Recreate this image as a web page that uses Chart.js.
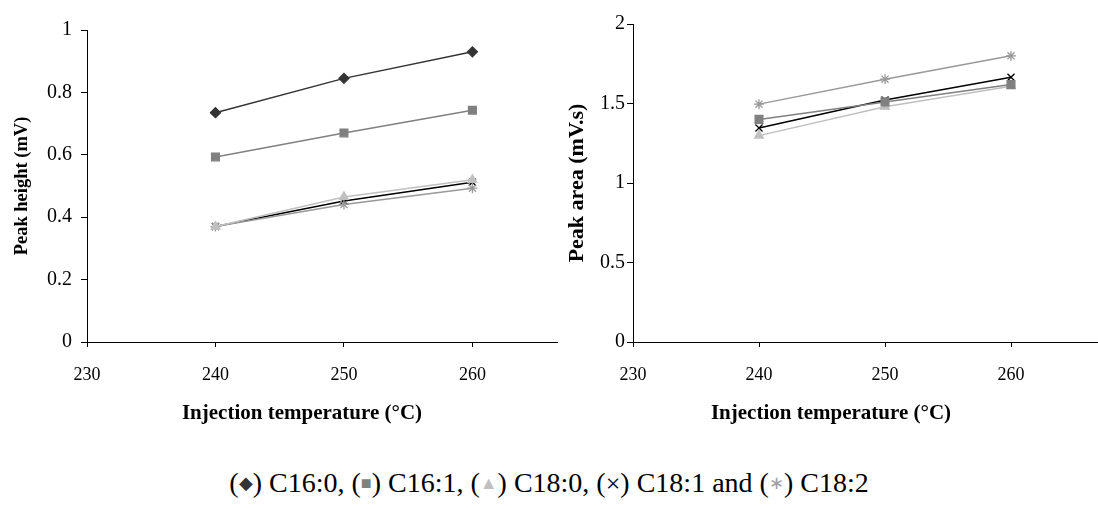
<!DOCTYPE html>
<html>
<head>
<meta charset="utf-8">
<script src="https://cdn.jsdelivr.net/npm/chart.js@4"></script>
<style>
  body { margin: 0; background: #fff; width: 1098px; height: 509px; position: relative; overflow: hidden; font-family: "Liberation Serif", serif; }
  .box { position: absolute; }
  .xtitle { position: absolute; top: 400px; font-weight: bold; font-size: 21px; white-space: nowrap; transform: translateX(-50%); }
  #leyenda { position: absolute; top: 467px; left: 549px; transform: translateX(-50%); font-size: 28px; white-space: nowrap; }
  #leyenda span { font-size: 18px; vertical-align: 3px; }
  #leyenda span.x { font-size: 26px; vertical-align: 0; }
</style>
</head>
<body>
<div class="box" style="left:0;top:0;width:564px;height:440px"><canvas id="chartAltura"></canvas></div>
<div class="box" style="left:549px;top:0;width:557px;height:440px"><canvas id="chartArea"></canvas></div>
<div class="xtitle" style="left:302px">Injection temperature (°C)</div>
<div class="xtitle" style="left:831px">Injection temperature (°C)</div>
<div id="leyenda">(<span style="color:#333">◆</span>) C16:0, (<span style="color:#808080">■</span>) C16:1, (<span style="color:#c0c0c0">▲</span>) C18:0, (<span class="x" style="color:#000">×</span>) C18:1 and (<span style="color:#a0a0a0">∗</span>) C18:2</div>
<script>
// temperaturas de inyeccion
const temperaturas = [240, 250, 260];
const ticksX = [230, 240, 250, 260];

// altura de pico (mV)
const alturaC160 = [0.735, 0.845, 0.930];
const alturaC161 = [0.593, 0.670, 0.743];
const alturaC180 = [0.370, 0.465, 0.520];
const alturaC181 = [0.370, 0.452, 0.512];
const alturaC182 = [0.370, 0.441, 0.493];

// area de pico (mV.s)
const areaC161 = [1.400, 1.510, 1.620];
const areaC180 = [1.298, 1.480, 1.608];
const areaC181 = [1.346, 1.522, 1.665];
const areaC182 = [1.496, 1.653, 1.800];

const fuente = "'Liberation Serif', 'Times New Roman', serif";

function puntos(valores) {
  var salida = [];
  for (let i = 0; i < temperaturas.length; i++) {
    salida.push({x: temperaturas[i], y: valores[i]});
  }
  return salida;
}

function serie(nombre, valores, color, estilo, radio) {
  return {
    label: nombre,
    data: puntos(valores),
    borderColor: color,
    backgroundColor: color,
    borderWidth: 1.5,
    pointStyle: estilo,
    pointRadius: radio,
    pointBorderColor: color,
    pointBackgroundColor: color,
    pointBorderWidth: 1.3,
    fill: false
  };
}

// c = {tituloY, maxY, pasoY, maxX, anchoY, arriba, tamTitulo, padTitulo, padTick}
function opciones(c) {
  return {
    responsive: true,
    maintainAspectRatio: false,
    animation: false,
    layout: {padding: {top: c.arriba, right: 0, bottom: 0, left: 0}},
    plugins: {legend: {display: false}, tooltip: {enabled: false}},
    scales: {
      x: {
        type: "linear",
        min: 230,
        max: c.maxX,
        afterBuildTicks: (s) => { s.ticks = ticksX.map(v => ({value: v})); },
        afterFit: (s) => { s.height = 98; },
        ticks: {color: "#000", font: {family: fuente, size: 18}, padding: 17, maxRotation: 0},
        grid: {display: true, drawOnChartArea: false, drawTicks: true, tickLength: 5, color: "#000"},
        border: {color: "#000", width: 1}
      },
      y: {
        min: 0,
        max: c.maxY,
        afterFit: (s) => { s.width = c.anchoY; },
        ticks: {stepSize: c.pasoY, color: "#000", font: {family: fuente, size: 20}, padding: c.padTick,
          callback: (v) => String(Math.round(v * 100) / 100)},
        grid: {display: true, drawOnChartArea: false, drawTicks: true, tickLength: 6, color: "#000"},
        border: {color: "#000", width: 1},
        title: {display: true, text: c.tituloY, color: "#000", font: {family: fuente, size: c.tamTitulo, weight: "bold"}, padding: {top: c.padTitulo, bottom: 0}}
      }
    }
  };
}

new Chart("chartAltura", {
  type: "line",
  data: {
    datasets: [
      serie("C16:0", alturaC160, "#333333", "rectRot", 5),
      serie("C16:1", alturaC161, "#808080", "rect", 5.5),
      serie("C18:0", alturaC180, "#c0c0c0", "triangle", 5),
      serie("C18:2", alturaC182, "#999999", "star", 5),
      serie("C18:1", alturaC181, "#000000", "crossRot", 5)
    ]
  },
  options: opciones({tituloY: "Peak height (mV)", maxY: 1, pasoY: 0.2, maxX: 266.6, anchoY: 87,
    arriba: 30, tamTitulo: 18.5, padTitulo: 11, padTick: 9})
});

new Chart("chartArea", {
  type: "line",
  data: {
    datasets: [
      serie("C16:1", areaC161, "#808080", "rect", 5.5),
      serie("C18:0", areaC180, "#c0c0c0", "triangle", 5),
      serie("C18:2", areaC182, "#999999", "star", 5),
      serie("C18:1", areaC181, "#000000", "crossRot", 5)
    ]
  },
  options: opciones({tituloY: "Peak area (mV.s)", maxY: 2, pasoY: 0.5, maxX: 267, anchoY: 84,
    arriba: 24, tamTitulo: 22, padTitulo: 15, padTick: 2})
});
</script>
</body>
</html>
